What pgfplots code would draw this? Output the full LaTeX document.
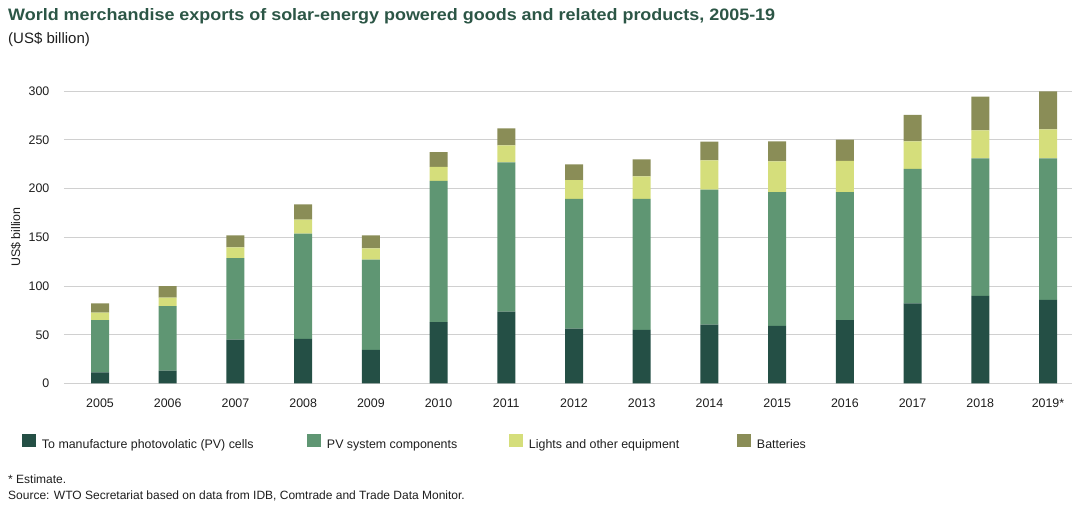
\documentclass[border=0pt]{standalone}
\usepackage{pgfplots}
\usepackage{pgfplotstable}
\pgfplotsset{compat=1.18}
\usepackage{graphicx}
\usepackage{fontspec}
\setmainfont{Liberation Sans}
\definecolor{cDark}{RGB}{36,79,69}
\definecolor{cMid}{RGB}{95,150,115}
\definecolor{cLight}{RGB}{213,222,123}
\definecolor{cOlive}{RGB}{138,141,87}
\definecolor{cTitle}{RGB}{44,86,70}
\definecolor{cGrid}{RGB}{208,208,208}
\definecolor{cText}{RGB}{30,30,30}

\pgfplotstableread{
x a b c d
0 11.3 53.6 7.9 9.5
1 13.3 66.0 8.8 11.7
2 45.1 83.4 11.2 12.3
3 45.8 107.9 14.4 15.7
4 34.5 92.6 11.6 13.3
5 62.9 144.8 14.4 15.3
6 73.8 153.1 17.4 17.4
7 56.4 132.9 19.4 16.1
8 55.0 134.3 23.2 17.4
9 60.5 138.3 30.1 19.1
10 59.1 137.3 31.5 20.5
11 64.9 131.5 31.8 21.9
12 82.3 137.7 28.4 27.0
13 89.9 141.1 28.7 34.5
14 85.8 145.2 29.7 39.0
}\data

\newcommand{\sm}{\fontsize{12.4}{14}\selectfont}

\begin{document}
\begin{tikzpicture}[x=1pt,y=1pt]
\useasboundingbox (0,0) rectangle (1080,510);
\node[anchor=base west, inner sep=0, text=cTitle] at (8,489) {\resizebox{767pt}{12pt}{\bfseries World merchandise exports of solar-energy powered goods and related products, 2005-19}};
\node[anchor=base west, inner sep=0, text=cText] at (8,466) {\fontsize{15}{18}\selectfont (US\$ billion)};
\node[anchor=base west, inner sep=0, text=cText] at (8,26) {\fontsize{12}{14}\selectfont * Estimate.};
\node[anchor=base west, inner sep=0, text=cText] at (8,10) {\fontsize{12}{14}\selectfont Source: WTO Secretariat based on data from IDB, Comtrade and Trade Data Monitor.};
\begin{axis}[
  at={(64pt,126.5pt)}, anchor=south west,
  scale only axis, width=1008pt, height=292.5pt,
  ybar stacked, bar width=18pt,
  xmin=-0.532, xmax=14.354, ymin=0, ymax=300,
  enlargelimits=false,
  xtick={0,...,14},
  xticklabels={2005,2006,2007,2008,2009,2010,2011,2012,2013,2014,2015,2016,2017,2018,2019*},
  ytick={0,50,...,300},
  ymajorgrids, grid style={draw=cGrid, line width=0.8pt},
  axis line style={draw=none},
  major tick length=0pt,
  tick style={draw=none},
  /pgf/number format/assume math mode=true,
  ticklabel style={font=\sm, text=cText, inner sep=0pt},
  xticklabel style={anchor=north, yshift=-15pt},
  yticklabel style={anchor=east, xshift=-14.5pt},
  ylabel={US\$ billion},
  ylabel style={at={(axis description cs:-0.0476,0.5)}, anchor=center, font=\sm, text=cText},
  legend columns=4,
  legend cell align=left,
  legend style={at={(axis description cs:-0.04167,-0.2)}, anchor=west, draw=none, fill=none,
    inner sep=0pt, outer sep=0pt, nodes={inner sep=0pt, font=\sm, text=cText},
    /tikz/every odd column/.append style={column sep=6pt}},
  every axis plot post/.append style={legend image code/.code={\fill[##1] (0pt,-2pt) rectangle (14pt,11pt);}},
]
\addplot[fill=cDark, draw=none] table[x=x, y=a] {\data};
\addplot[fill=cMid, draw=none] table[x=x, y=b] {\data};
\addplot[fill=cLight, draw=none] table[x=x, y=c] {\data};
\addplot[fill=cOlive, draw=none] table[x=x, y=d] {\data};
\legend{\makebox[265pt][l]{To manufacture photovolatic (PV) cells},\makebox[182pt][l]{PV system components},\makebox[208pt][l]{Lights and other equipment},Batteries}
\end{axis}
\end{tikzpicture}
\end{document}
